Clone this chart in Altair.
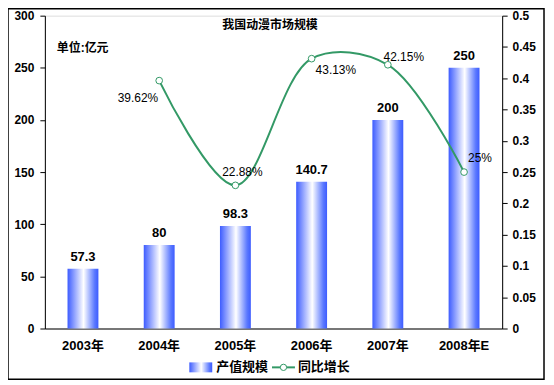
import altair as alt
import pandas as pd

years = ["2003年", "2004年", "2005年", "2006年", "2007年", "2008年E"]
output_values = [57.3, 80, 98.3, 140.7, 200, 250]
growth_years = ["2004年", "2005年", "2006年", "2007年", "2008年E"]
growth_values = [0.3962, 0.2288, 0.4313, 0.4215, 0.25]
growth_labels = ["39.62%", "22.88%", "43.13%", "42.15%", "25%"]

title_text = "我国动漫市场规模"
unit_text = "单位:亿元"
legend_bar = "产值规模"
legend_line = "同比增长"

FONT = "Liberation Sans, Noto Sans CJK SC, sans-serif"
GREEN = "#339966"
BLUE = "#3d5cff"

bars_df = pd.DataFrame({"year": years, "value": output_values,
                        "label": [f"{v:g}" for v in output_values]})
line_df = pd.DataFrame({"year": growth_years, "g": growth_values, "label": growth_labels})

W, H = 459, 314
xenc = alt.X("year:N", sort=years, scale=alt.Scale(domain=years, paddingInner=0, paddingOuter=0),
             axis=alt.Axis(title=None, labelAngle=0, labelFont=FONT, labelFontSize=13,
                           labelFontWeight="bold", labelColor="black", domainColor="black",
                           tickSize=0, labelPadding=11))

grad = alt.Gradient(gradient="linear", x1=0, x2=1, y1=0, y2=0,
                    stops=[alt.GradientStop(color=BLUE, offset=0),
                           alt.GradientStop(color="#ffffff", offset=0.52),
                           alt.GradientStop(color="#5a78ff", offset=0.88),
                           alt.GradientStop(color=BLUE, offset=1)])

base_bar = alt.Chart(bars_df)
yleft = alt.Y("value:Q", scale=alt.Scale(domain=[0, 300], nice=False),
              axis=alt.Axis(title=None, values=list(range(0, 301, 50)), grid=False,
                            labelFont=FONT, labelFontSize=12, labelFontWeight="bold",
                            labelColor="black", domainColor="black", tickColor="black",
                            tickSize=5, labelPadding=6))
bars = base_bar.mark_bar(size=31, color=grad).encode(x=xenc, y=yleft)
bar_text = base_bar.mark_text(baseline="bottom", dy=-5, font=FONT, fontSize=13,
                              fontWeight="bold", color="black").encode(
    x=xenc, y=yleft, text="label:N")
bar_layer = alt.layer(bars, bar_text)

base_line = alt.Chart(line_df)
yright = alt.Y("g:Q", scale=alt.Scale(domain=[0, 0.5], nice=False),
               axis=alt.Axis(title=None, orient="right", values=[round(i * 0.05, 2) for i in range(11)],
                             format="~g", grid=False, labelFont=FONT, labelFontSize=12,
                             labelFontWeight="bold", labelColor="black", domainColor="black",
                             tickColor="black", tickSize=5, labelPadding=5))
line = base_line.mark_line(interpolate="catmull-rom", color=GREEN, strokeWidth=2).encode(
    x=xenc, y=yright)
pts = base_line.mark_point(shape="circle", size=45, filled=True, fill="white",
                           stroke=GREEN, strokeWidth=1, opacity=1).encode(x=xenc, y=yright)

offsets = {"39.62%": ("right", -1, 17), "22.88%": ("center", 7, -13),
           "43.13%": ("left", 4, 11), "42.15%": ("center", 16, -8), "25%": ("center", 16, -14)}
lab_layers = []
for lab in growth_labels:
    al, dx, dy = offsets[lab]
    lab_layers.append(base_line.transform_filter(alt.datum.label == lab).mark_text(
        align=al, baseline="middle", dx=dx, dy=dy, font=FONT, fontSize=12, color="black").encode(
        x=xenc, y=yright, text="label:N"))
line_layer = alt.layer(line, pts, *lab_layers)

one = alt.Chart(pd.DataFrame({"a": [0]}))
frame = one.mark_rect(fill=None, stroke="black", strokeWidth=1.5).encode(
    x=alt.value(-37), x2=alt.value(501), y=alt.value(-7), y2=alt.value(365))
title = one.mark_text(font=FONT, fontSize=12, fontWeight="bold", color="black").encode(
    x=alt.value(226), y=alt.value(9), text=alt.value(title_text))
unit = one.mark_text(font=FONT, fontSize=12, fontWeight="bold", color="black", align="left").encode(
    x=alt.value(12), y=alt.value(32), text=alt.value(unit_text))
leg_sw = one.mark_rect(color=grad).encode(
    x=alt.value(145), x2=alt.value(168), y=alt.value(348), y2=alt.value(358))
leg_t1 = one.mark_text(font=FONT, fontSize=13, fontWeight="bold", color="black", align="left").encode(
    x=alt.value(172), y=alt.value(353), text=alt.value(legend_bar))
leg_rule = one.mark_rule(color=GREEN, strokeWidth=2).encode(
    x=alt.value(228), x2=alt.value(251), y=alt.value(353))
leg_pt = one.mark_point(shape="circle", size=40, filled=True, fill="white", stroke=GREEN,
                        strokeWidth=1, opacity=1).encode(x=alt.value(239.5), y=alt.value(353))
leg_t2 = one.mark_text(font=FONT, fontSize=13, fontWeight="bold", color="black", align="left").encode(
    x=alt.value(254), y=alt.value(353), text=alt.value(legend_line))

chart = alt.layer(bar_layer, line_layer, frame, title, unit, leg_sw, leg_t1, leg_rule, leg_pt, leg_t2
                  ).resolve_scale(y="independent").properties(
    width=W, height=H, autosize=alt.AutoSizeParams(type="none"),
    padding={"left": 37, "top": 7, "right": 44, "bottom": 53}
).configure_view(stroke="#808080", strokeWidth=1).configure(background="white")

chart.save("out.html", embed_options={"renderer": "svg", "actions": False})
